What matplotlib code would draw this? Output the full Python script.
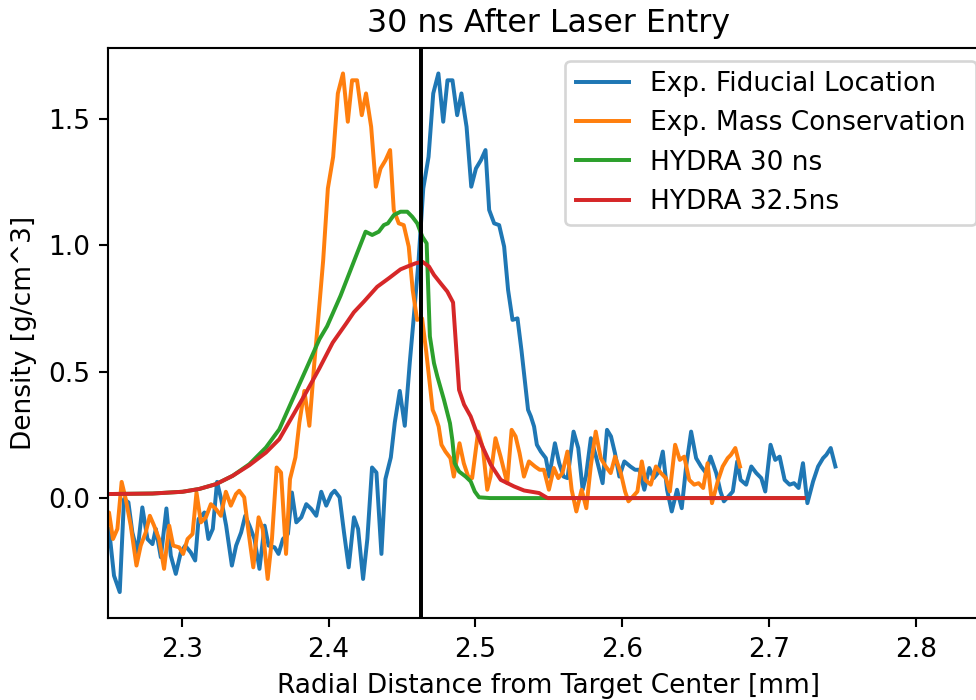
import numpy as np
import matplotlib
matplotlib.use("Agg")
import matplotlib.pyplot as plt

# Measured density profile located by the fiducial (radius in mm, density in g/cm^3)
fid_x = [
    2.2504, 2.2538, 2.2577, 2.2606, 2.2636, 2.2663, 2.2697, 2.2731, 2.2766, 2.2800,
    2.2823, 2.2857, 2.2895, 2.2925, 2.2959, 2.2993, 2.3023, 2.3061, 2.3091, 2.3114,
    2.3154, 2.3181, 2.3211, 2.3240, 2.3268, 2.3302, 2.3341, 2.3370, 2.3404, 2.3432,
    2.3461, 2.3495, 2.3529, 2.3564, 2.3591, 2.3632, 2.3659, 2.3689, 2.3723, 2.3750,
    2.3780, 2.3814, 2.3848, 2.3882, 2.3916, 2.3950, 2.3984, 2.4019, 2.4041, 2.4075,
    2.4105, 2.4137, 2.4173, 2.4201, 2.4235, 2.4264, 2.4296, 2.4326, 2.4360, 2.4387,
    2.4424, 2.4451, 2.4485, 2.4519, 2.4553, 2.4578, 2.4613, 2.4645, 2.4681, 2.4713,
    2.4748, 2.4781, 2.4810, 2.4844, 2.4876, 2.4905, 2.4940, 2.4972, 2.5004, 2.5038,
    2.5069, 2.5094, 2.5128, 2.5162, 2.5196, 2.5223, 2.5253, 2.5287, 2.5314, 2.5344,
    2.5359, 2.5378, 2.5400, 2.5419, 2.5446, 2.5480, 2.5503, 2.5542, 2.5571, 2.5601,
    2.5628, 2.5669, 2.5701, 2.5731, 2.5753, 2.5787, 2.5822, 2.5867, 2.5897, 2.5924,
    2.5951, 2.5981, 2.6015, 2.6056, 2.6088, 2.6117, 2.6151, 2.6185, 2.6215, 2.6243,
    2.6277, 2.6306, 2.6338, 2.6374, 2.6406, 2.6436, 2.6470, 2.6504, 2.6538, 2.6572,
    2.6602, 2.6641, 2.6670, 2.6693, 2.6725, 2.6754, 2.6784, 2.6807, 2.6845, 2.6880,
    2.6914, 2.6948, 2.6975, 2.7011, 2.7043, 2.7073, 2.7107, 2.7141, 2.7171, 2.7202,
    2.7232, 2.7262, 2.7301, 2.7335, 2.7369, 2.7391, 2.7421, 2.7453,
]
fid_y = [
    -0.122, -0.307, -0.372, -0.004, -0.017, -0.136, -0.215, -0.037, -0.162, -0.182,
    -0.122, -0.234, -0.041, -0.228, -0.300, -0.215, -0.188, -0.215, -0.247, -0.083,
    -0.057, -0.162, -0.122, 0.064, -0.004, -0.109, -0.267, -0.188, -0.136, -0.070,
    -0.109, -0.162, -0.280, -0.109, -0.188, -0.195, -0.221, -0.162, -0.142, 0.022,
    -0.096, -0.076, -0.024, -0.043, -0.070, 0.025, -0.030, 0.016, 0.029, 0.003,
    -0.136, -0.274, -0.076, -0.122, -0.320, -0.162, 0.121, 0.101, -0.221, 0.075,
    0.161, 0.299, 0.424, 0.286, 0.536, 0.700, 0.940, 1.225, 1.350, 1.601,
    1.680, 1.489, 1.653, 1.653, 1.515, 1.601, 1.469, 1.232, 1.304, 1.337,
    1.377, 1.140, 1.087, 1.080, 0.995, 0.823, 0.705, 0.711, 0.585, 0.428,
    0.349, 0.323, 0.283, 0.211, 0.184, 0.158, 0.085, 0.217, 0.138, 0.085,
    0.079, 0.263, 0.198, 0.033, 0.085, 0.237, 0.164, 0.059, 0.270, 0.244,
    0.178, 0.085, 0.145, 0.125, 0.112, 0.112, 0.033, 0.119, 0.079, 0.099,
    0.184, 0.033, -0.053, 0.033, -0.040, 0.125, 0.263, 0.158, 0.125, 0.099,
    0.164, 0.099, 0.026, -0.013, 0.007, 0.026, 0.145, 0.072, 0.053, 0.125,
    0.099, 0.079, 0.026, 0.211, 0.151, 0.164, 0.072, 0.053, 0.059, 0.040,
    0.138, -0.020, 0.066, 0.125, 0.158, 0.171, 0.198, 0.125,
]

# The mass-conservation estimate is the same profile placed at a smaller radius
mass_offset = 0.065  # mm

# HYDRA simulation at 30 ns
hydra30_x = [
    2.2500, 2.2800, 2.3005, 2.3118, 2.3232, 2.3346, 2.3460, 2.3573, 2.3664, 2.3755,
    2.3846, 2.3937, 2.3990, 2.4081, 2.4195, 2.4252, 2.4297, 2.4342, 2.4376, 2.4404,
    2.4445, 2.4490, 2.4536, 2.4570, 2.4604, 2.4639, 2.4668, 2.4690, 2.4718, 2.4741,
    2.4786, 2.4827, 2.4843, 2.4859, 2.4889, 2.4934, 2.4968, 2.4996, 2.5025, 2.5100,
    2.7235,
]
hydra30_y = [
    0.016, 0.018, 0.025, 0.036, 0.055, 0.088, 0.134, 0.200, 0.272, 0.391,
    0.509, 0.628, 0.680, 0.800, 0.970, 1.054, 1.041, 1.054, 1.080, 1.087,
    1.120, 1.133, 1.133, 1.113, 1.087, 1.034, 1.008, 0.640, 0.534, 0.481,
    0.389, 0.296, 0.230, 0.138, 0.105, 0.085, 0.066, 0.026, 0.003, 0.0,
    0.0,
]

# HYDRA simulation at 32.5 ns
hydra325_x = [
    2.2500, 2.2800, 2.3005, 2.3118, 2.3232, 2.3346, 2.3460, 2.3573, 2.3664, 2.3755,
    2.3846, 2.3937, 2.4028, 2.4119, 2.4172, 2.4240, 2.4331, 2.4411, 2.4490, 2.4536,
    2.4593, 2.4639, 2.4684, 2.4718, 2.4763, 2.4809, 2.4848, 2.4889, 2.4923, 2.4968,
    2.5002, 2.5048, 2.5105, 2.5173, 2.5264, 2.5332, 2.5434, 2.5492, 2.7237,
]
hydra325_y = [
    0.016, 0.018, 0.025, 0.036, 0.055, 0.088, 0.130, 0.180, 0.233, 0.325,
    0.417, 0.513, 0.615, 0.690, 0.735, 0.777, 0.836, 0.870, 0.905, 0.916,
    0.929, 0.935, 0.916, 0.883, 0.850, 0.817, 0.774, 0.428, 0.370, 0.323,
    0.270, 0.204, 0.132, 0.072, 0.046, 0.030, 0.020, 0.0, 0.0,
]

# Radius of the marked reference position
marker_x = 2.463

fid_x = np.array(fid_x)
fid_y = np.array(fid_y)

DPI = 190
fig = plt.figure(figsize=(976 / DPI, 700 / DPI), dpi=DPI)
ax = fig.add_axes([0.1111, 0.1171, 0.9023, 0.815])

ax.plot(fid_x, fid_y, color="#1f77b4", lw=1.5, label="Exp. Fiducial Location")
ax.plot(fid_x - mass_offset, fid_y, color="#ff7f0e", lw=1.5, label="Exp. Mass Conservation")
ax.plot(hydra30_x, hydra30_y, color="#2ca02c", lw=1.5, label="HYDRA 30 ns")
ax.plot(hydra325_x, hydra325_y, color="#d62728", lw=1.5, label="HYDRA 32.5ns")
ax.axvline(marker_x, color="black", lw=1.5)

ax.set_xlim(2.25, 2.85)
ax.set_xticks([2.3, 2.4, 2.5, 2.6, 2.7, 2.8])
ax.set_yticks([0.0, 0.5, 1.0, 1.5])
ax.set_title("30 ns After Laser Entry")
ax.set_xlabel("Radial Distance from Target Center [mm]")
ax.set_ylabel("Density [g/cm^3]")
ax.legend(loc="upper right")

fig.savefig("out.png", dpi=DPI)
